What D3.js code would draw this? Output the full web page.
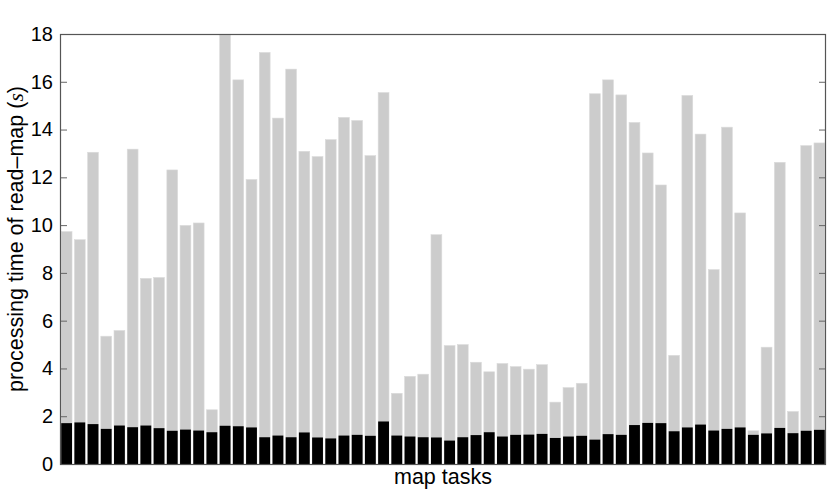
<!DOCTYPE html>
<html>
<head>
<meta charset="utf-8">
<script src="https://cdn.jsdelivr.net/npm/d3@7"></script>
<style>
  body { margin: 0; background: #fff; }
  text { font-family: "Liberation Sans", Arial, sans-serif; }
</style>
</head>
<body>
<div id="chart"></div>
<script>
// total processing time per map task (gray) and the read part (black)
var totalTime = [
  9.73, 9.39, 13.05, 5.35, 5.59, 13.18, 7.77, 7.81, 12.31, 9.99,
  10.09, 2.27, 17.96, 16.08, 11.91, 17.23, 14.48, 16.53, 13.09, 12.87,
  13.58, 14.51, 14.38, 12.91, 15.55, 2.96, 3.67, 3.76, 9.60, 4.96,
  5.00, 4.26, 3.86, 4.21, 4.08, 3.97, 4.16, 2.59, 3.20, 3.38,
  15.50, 16.08, 15.45, 14.30, 13.02, 11.68, 4.55, 15.43, 13.81, 8.14,
  14.10, 10.51, 1.39, 4.89, 12.63, 2.20, 13.33, 13.44
]
var readTime = [
  1.71, 1.74, 1.67, 1.47, 1.61, 1.54, 1.61, 1.50, 1.39, 1.44,
  1.40, 1.33, 1.60, 1.58, 1.53, 1.12, 1.19, 1.12, 1.32, 1.11,
  1.07, 1.19, 1.22, 1.18, 1.78, 1.19, 1.15, 1.12, 1.11, 0.98,
  1.12, 1.21, 1.33, 1.15, 1.22, 1.23, 1.26, 1.09, 1.15, 1.18,
  1.02, 1.25, 1.22, 1.63, 1.72, 1.71, 1.37, 1.53, 1.65, 1.40,
  1.47, 1.53, 1.22, 1.28, 1.51, 1.29, 1.39, 1.43
]
var yTicks = [0, 2, 4, 6, 8, 10, 12, 14, 16, 18]

var tasks = d3.range(1, totalTime.length + 1)

var width = 830, height = 492
var margin = {left: 60, right: 4, top: 34, bottom: 28}
var w = width - margin.left - margin.right
var h = height - margin.top - margin.bottom

var svg = d3.select('#chart').append('svg')
  .attr('width', width).attr('height', height)
var g = svg.append('g').attr('transform', 'translate(' + margin.left + ',' + margin.top + ')')

var x = d3.scaleBand().domain(tasks).range([0, w]).paddingInner(0.18).paddingOuter(0.09)
var y = d3.scaleLinear().domain([0, 18]).range([h, 0])

// gray: total time
g.selectAll('rect.total').data(tasks).enter().append('rect')
  .attr('class', 'total')
  .attr('x', function(d){ return x(d) })
  .attr('width', x.bandwidth())
  .attr('y', function(d, i){ return y(totalTime[i]) })
  .attr('height', function(d, i){ return y(0) - y(totalTime[i]) })
  .attr('fill', '#cccccc')
  .attr('stroke', '#dcdcdc').attr('stroke-width', 0.6)

// black: read time
g.selectAll('rect.read').data(tasks).enter().append('rect')
  .attr('class', 'read')
  .attr('x', function(d){ return x(d) })
  .attr('width', x.bandwidth())
  .attr('y', function(d, i){ return y(readTime[i]) })
  .attr('height', function(d, i){ return y(0) - y(readTime[i]) })
  .attr('fill', '#000')

// left axis, ticks pointing inwards
var yAxisL = d3.axisLeft(y).tickValues(yTicks).tickSizeInner(-7).tickSizeOuter(0).tickPadding(7)
var gl = g.append('g').call(yAxisL)
gl.selectAll('text').attr('font-size', 20).attr('fill', '#000')
gl.selectAll('line').attr('stroke', '#666')
gl.select('.domain').remove()

var yAxisR = d3.axisRight(y).tickValues(yTicks).tickSizeInner(-7).tickSizeOuter(0).tickFormat('')
var gr = g.append('g').attr('transform', 'translate(' + w + ',0)').call(yAxisR)
gr.selectAll('line').attr('stroke', '#666')
gr.select('.domain').remove()

// box
g.append('rect')
  .attr('x', 0.5).attr('y', 0.5).attr('width', w - 1).attr('height', h)
  .attr('fill', 'none').attr('stroke', '#555').attr('stroke-width', 1.2)

// labels
svg.append('text')
  .attr('x', margin.left + w / 2).attr('y', 484)
  .attr('text-anchor', 'middle').attr('font-size', 21.5)
  .text('map tasks')

var yl = svg.append('text')
  .attr('transform', 'translate(23,239) rotate(-90)')
  .attr('text-anchor', 'middle').attr('font-size', 21.5)
yl.append('tspan').text('processing time of read\u2013map (')
yl.append('tspan').text('s').attr('font-family', '"Liberation Serif", "DejaVu Serif", serif').attr('font-style', 'italic')
yl.append('tspan').text(')')
</script>
</body>
</html>
